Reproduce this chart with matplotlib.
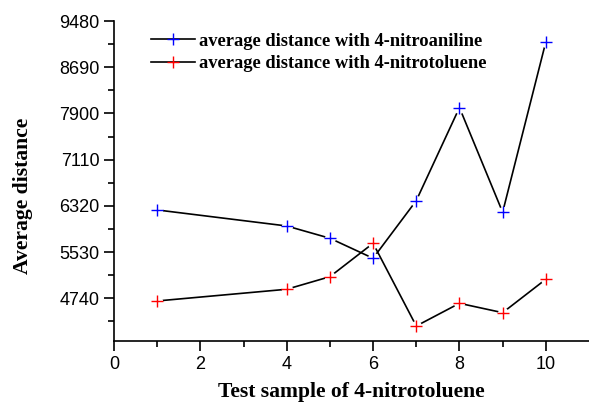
import matplotlib.pyplot as plt
from matplotlib.ticker import FixedLocator

# test sample index
samples = [1, 4, 5, 6, 7, 8, 9, 10]
# average distance for each series
dist_aniline = [6250, 5976, 5766, 5424, 6409, 8000, 6211, 9123]
dist_toluene = [4694, 4894, 5109, 5680, 4266, 4654, 4494, 5065]
ytick_vals = [4740, 5530, 6320, 7110, 7900, 8690, 9480]

serif = 'Liberation Serif'
sans = 'Liberation Sans'

fig = plt.figure(figsize=(5.89, 4.04), dpi=100)
ax = fig.add_axes([0.1935, 0.156, 0.8065, 0.792])

for ys, clr, lab in [(dist_aniline, 'blue', 'average distance with 4-nitroaniline'),
                     (dist_toluene, 'red', 'average distance with 4-nitrotoluene')]:
    ax.plot(samples, ys, c='black', lw=1.2, zorder=1)
    # white blobs give the gap between line and marker
    ax.plot(samples, ys, ls='none', marker='o', ms=8, mfc='white', mec='none', zorder=2)
    ax.plot(samples, ys, ls='none', marker='+', ms=8, mew=1.0, c=clr, zorder=3)
    ax.plot([], [], c='black', lw=1.2, marker='+', ms=8, mew=1.0, mec=clr, label=lab)

ax.set_xlim(0, 11)
ax.set_ylim(4010, 9480)
ax.xaxis.set_major_locator(FixedLocator([0, 2, 4, 6, 8, 10]))
ax.xaxis.set_minor_locator(FixedLocator([1, 3, 5, 7, 9]))
ax.yaxis.set_major_locator(FixedLocator(ytick_vals))
ax.yaxis.set_minor_locator(FixedLocator([v - 395 for v in ytick_vals]))

for s in ['top', 'right']:
    ax.spines[s].set_visible(False)
for s in ['left', 'bottom']:
    ax.spines[s].set_linewidth(1.2)
ax.tick_params(which='major', direction='out', length=7, width=1.2, labelsize=13)
ax.tick_params(which='minor', direction='out', length=4, width=1.2)
for t in ax.get_xticklabels() + ax.get_yticklabels():
    t.set_fontfamily(sans)

ax.set_xlabel('Test sample of 4-nitrotoluene', fontfamily=serif, fontweight='bold', fontsize=15.6)
ax.xaxis.set_label_coords(0.5, -0.128)
ax.set_ylabel('Average distance', fontfamily=serif, fontweight='bold', fontsize=15.6)
ax.yaxis.set_label_coords(-0.17, 0.453)

leg = ax.legend(loc='upper left', bbox_to_anchor=(0.042, 1.015), frameon=False,
                prop={'family': serif, 'weight': 'bold', 'size': 13.3},
                handlelength=2.4, handletextpad=0.2, labelspacing=0.3)

plt.savefig('out.png', dpi=100)
